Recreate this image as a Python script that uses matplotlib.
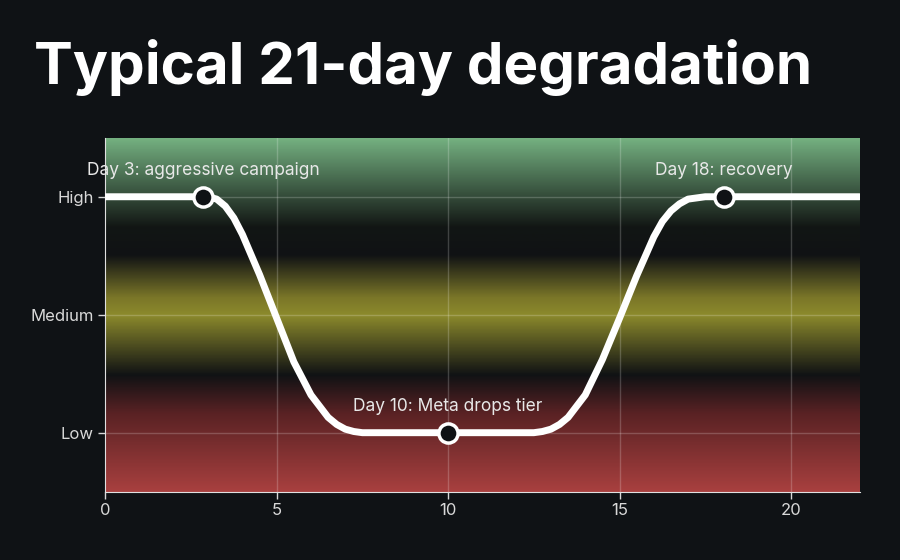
import numpy as np
import matplotlib.pyplot as plt
from matplotlib.colors import LinearSegmentedColormap

# curve (day, level: 1=Low, 2=Medium, 3=High)
days = [0, 3, 3.25, 3.5, 3.75, 4, 4.5, 5, 5.5, 6, 6.5, 6.75, 7, 7.25, 7.5, 12.5, 12.75, 13, 13.25,
        13.5, 14, 14.5, 15, 15.5, 16, 16.25, 16.5, 16.75, 17, 17.5, 18, 22]
level = [3, 3, 2.98, 2.92, 2.82, 2.68, 2.34, 1.97, 1.6, 1.32, 1.13, 1.07, 1.03, 1.01, 1.0, 1.0, 1.01,
         1.03, 1.07, 1.13, 1.32, 1.62, 1.97, 2.33, 2.66, 2.79, 2.88, 2.94, 2.98, 3.0, 3.0, 3.0]
events_x = [2.85, 10, 18.05]
events_y = [3, 1, 3]
events_text = ["Day 3: aggressive campaign", "Day 10: Meta drops tier", "Day 18: recovery"]
ytick_vals = [1, 2, 3]
ytick_labels = ["Low", "Medium", "High"]
xtick_vals = [0, 5, 10, 15, 20]

BG = "#0f1215"
plt.rcParams["font.family"] = ["Inter", "DejaVu Sans"]

fig = plt.figure(figsize=(9, 5.6), dpi=100, facecolor=BG)
fig.text(0.038, 0.88, "Typical 21-day degradation", color="white", fontsize=42,
         fontweight="bold", va="center", ha="left")

ax = fig.add_axes([0.117, 0.122, 0.838, 0.632])
ax.set_facecolor(BG)

# background band gradient: red (bottom) -> dark -> yellow -> dark -> green (top)
cmap = LinearSegmentedColormap.from_list("bands", [
    (0.0, "#a8403f"), (0.22, "#5a2224"), (0.33, "#101214"),
    (0.5, "#8c8a2c"), (0.55, "#7a7628"),
    (0.67, "#101214"), (0.75, "#121614"), (1.0, "#74b080")])
grad = np.linspace(0, 1, 256).reshape(-1, 1)
ax.imshow(grad, cmap=cmap, aspect="auto", origin="lower",
          extent=[0, 22, 0.5, 3.5], zorder=0)

for x in xtick_vals[1:]:
    ax.axvline(x, color="white", alpha=0.2, lw=1, zorder=1)
for y in ytick_vals:
    ax.axhline(y, color="white", alpha=0.2, lw=1, zorder=1)

ax.plot(days, level, color="white", lw=5, solid_joinstyle="round",
        solid_capstyle="round", zorder=3)
ax.scatter(events_x, events_y, s=190, facecolor=BG, edgecolor="white",
           linewidth=2.5, zorder=4)
for x, y, t in zip(events_x, events_y, events_text):
    ax.annotate(t, (x, y), xytext=(0, 13), textcoords="offset points",
                ha="center", va="bottom", color="#e8e8e8", fontsize=12.5, zorder=5)

ax.set_xlim(0, 22)
ax.set_ylim(0.5, 3.5)
ax.set_xticks(xtick_vals)
ax.set_yticks(ytick_vals, ytick_labels)
ax.tick_params(colors="#d8d8d8", labelsize=12, length=5, width=1)
for s in ["top", "right"]:
    ax.spines[s].set_visible(False)
for s in ["left", "bottom"]:
    ax.spines[s].set_color("#e0e0e0")

fig.savefig("out.png", facecolor=BG)
